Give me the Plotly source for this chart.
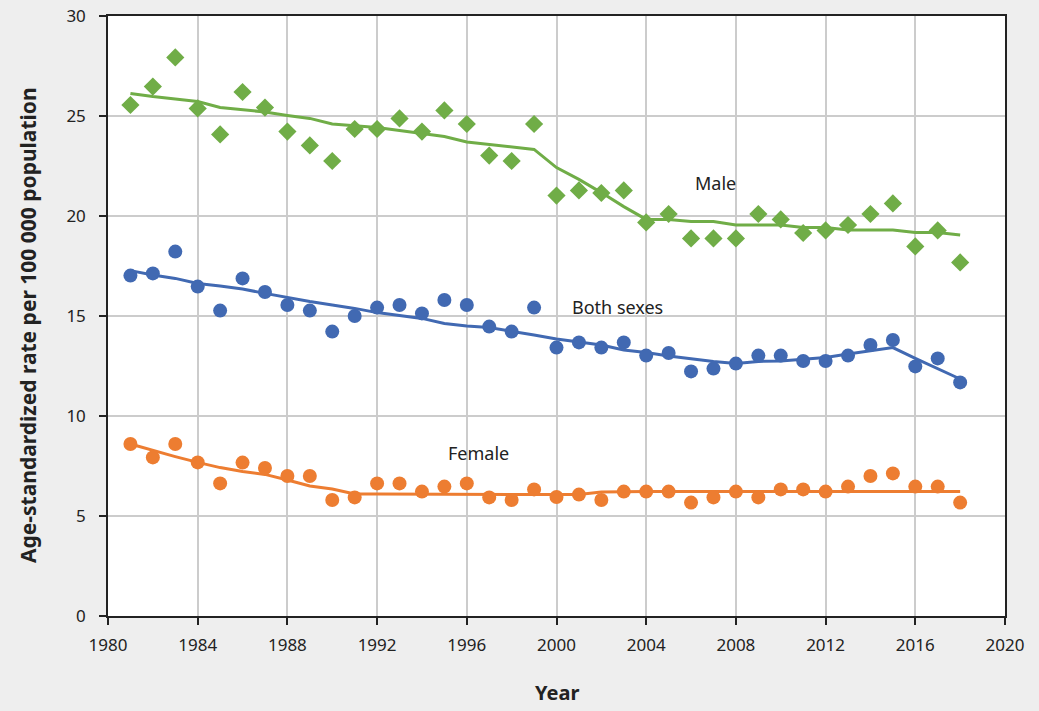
import plotly.graph_objects as go

years = list(range(1981, 2019))

male_rate = [25.55, 26.47, 27.93, 25.38, 24.08, 26.2, 25.42, 24.22, 23.53, 22.75,
             24.35, 24.35, 24.88, 24.22, 25.28, 24.6, 23.02, 22.75, 24.6, 21.02,
             21.28, 21.15, 21.28, 19.68, 20.1, 18.88, 18.88, 18.88, 20.1, 19.83,
             19.15, 19.28, 19.55, 20.1, 20.63, 18.48, 19.28, 17.68]
male_trend = [26.13, 25.97, 25.85, 25.72, 25.43, 25.33, 25.2, 25.03, 24.88, 24.6,
              24.5, 24.42, 24.27, 24.13, 23.97, 23.7, 23.58, 23.47, 23.33, 22.42,
              21.83, 21.17, 20.47, 19.83, 19.83, 19.72, 19.72, 19.55, 19.55, 19.55,
              19.42, 19.42, 19.3, 19.3, 19.3, 19.17, 19.17, 19.05]

both_rate = [17.02, 17.13, 18.22, 16.47, 15.27, 16.88, 16.2, 15.55, 15.27, 14.22,
             15.0, 15.42, 15.55, 15.13, 15.8, 15.55, 14.47, 14.22, 15.42, 13.42,
             13.68, 13.42, 13.68, 13.02, 13.15, 12.23, 12.37, 12.62, 13.02, 13.02,
             12.75, 12.75, 13.02, 13.55, 13.8, 12.48, 12.88, 11.68]
both_trend = [17.27, 17.05, 16.88, 16.63, 16.5, 16.35, 16.13, 15.92, 15.72, 15.55,
              15.38, 15.17, 15.02, 14.88, 14.63, 14.5, 14.42, 14.25, 14.05, 13.85,
              13.7, 13.55, 13.3, 13.17, 13.0, 12.85, 12.73, 12.63, 12.73, 12.75,
              12.85, 12.93, 13.1, 13.25, 13.42, 12.88, 12.35, 11.85]

female_rate = [8.6, 7.93, 8.6, 7.68, 6.63, 7.67, 7.4, 7.0, 7.0, 5.8,
               5.93, 6.63, 6.63, 6.22, 6.47, 6.63, 5.93, 5.8, 6.33, 5.95,
               6.07, 5.8, 6.22, 6.22, 6.22, 5.67, 5.93, 6.22, 5.93, 6.33,
               6.33, 6.22, 6.47, 7.0, 7.13, 6.47, 6.47, 5.67]
female_trend = [8.6, 8.27, 7.97, 7.68, 7.42, 7.22, 7.08, 6.8, 6.5, 6.35,
                6.1, 6.1, 6.1, 6.1, 6.1, 6.1, 6.1, 6.1, 6.1, 6.07,
                6.07, 6.2, 6.22, 6.22, 6.22, 6.22, 6.22, 6.22, 6.22, 6.22,
                6.22, 6.22, 6.22, 6.22, 6.22, 6.22, 6.22, 6.22]

labels = [("Male", 2007.1, 21.65), ("Both sexes", 2002.7, 15.45), ("Female", 1996.5, 8.15)]

x_title = "Year"
y_title = "Age-standardized rate per 100 000 population"

GREEN = "#70AD47"
BLUE = "#4169B2"
ORANGE = "#ED7D31"
FONT = "Noto Sans"

fig = go.Figure()

series = [
    (male_rate, male_trend, GREEN, "diamond", "Male"),
    (both_rate, both_trend, BLUE, "circle", "Both sexes"),
    (female_rate, female_trend, ORANGE, "circle", "Female"),
]
for rate, trend, color, sym, name in series:
    fig.add_trace(go.Scatter(x=years, y=trend, mode="lines",
                             line=dict(color=color, width=3), name=name + " trend",
                             showlegend=False))
    fig.add_trace(go.Scatter(x=years, y=rate, mode="markers",
                             marker=dict(color=color, size=14, symbol=sym, line=dict(width=0)),
                             name=name, showlegend=False))

for text, x, y in labels:
    fig.add_annotation(x=x, y=y, text=text, showarrow=False,
                       font=dict(family=FONT, size=18, color="#222222"))

# axis titles (placed in paper coordinates)
fig.add_annotation(xref="paper", yref="paper", x=0.5, y=-0.127, text="<b>" + x_title + "</b>",
                   showarrow=False, xanchor="center", yanchor="middle",
                   font=dict(family=FONT, size=20, color="#222222"))
fig.add_annotation(xref="paper", yref="paper", x=-0.0892, y=0.485, text="<b>" + y_title + "</b>",
                   showarrow=False, xanchor="center", yanchor="middle", textangle=-90,
                   font=dict(family=FONT, size=21, color="#222222"))

fig.update_layout(
    width=1039, height=711,
    paper_bgcolor="#EEEEEE", plot_bgcolor="#FFFFFF",
    margin=dict(l=108, r=34, t=16, b=95, autoexpand=False),
    font=dict(family=FONT, size=17, color="#222222"),
    showlegend=False,
)
fig.update_xaxes(
    range=[1980, 2020], tickmode="linear", tick0=1980, dtick=4,
    showgrid=True, gridcolor="#CCCCCC", gridwidth=2,
    showline=True, linecolor="#222222", linewidth=1.5, mirror=True,
    ticks="outside", ticklen=7, tickcolor="#222222", tickwidth=1.5,
    ticklabelstandoff=6, automargin=False,
    zeroline=False,
)
fig.update_yaxes(
    range=[0, 30], tickmode="linear", tick0=0, dtick=5,
    showgrid=True, gridcolor="#CCCCCC", gridwidth=2,
    showline=True, linecolor="#222222", linewidth=1.5, mirror=True,
    ticks="outside", ticklen=7, tickcolor="#222222", tickwidth=1.5,
    ticklabelstandoff=10, automargin=False,
    zeroline=False,
)

fig.write_html("out.html", config={"displayModeBar": False},
               post_script="document.body.style.margin='0';")
